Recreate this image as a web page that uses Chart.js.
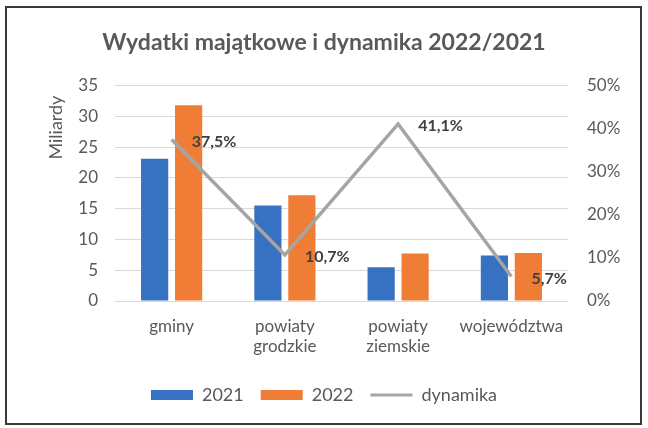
<!DOCTYPE html>
<html>
<head>
<meta charset="utf-8">
<script src="https://cdn.jsdelivr.net/npm/chart.js@4.4.1/dist/chart.umd.min.js"></script>
<style>
  html, body { margin: 0; padding: 0; background: #fff; }
  #wrap { width: 648px; height: 428px; position: relative; }
</style>
</head>
<body>
<div id="wrap"><canvas id="chart" width="648" height="428"></canvas></div>
<script>
const categories = ['gminy', ['powiaty', 'grodzkie'], ['powiaty', 'ziemskie'], 'województwa'];
const values2021 = [23.1, 15.5, 5.5, 7.4];
const values2022 = [31.8, 17.2, 7.7, 7.8];
const dynamika = [37.5, 10.7, 41.1, 5.7];
const dynamikaLabels = ['37,5%', '10,7%', '41,1%', '5,7%'];

const textGrey = '#595959';

// frame around the whole picture
const framePlugin = {
  id: 'frame',
  beforeDraw(chart) {
    const ctx = chart.ctx;
    ctx.save();
    ctx.fillStyle = '#ffffff';
    ctx.fillRect(0, 0, chart.width, chart.height);
    ctx.restore();
  },
  afterDraw(chart) {
    const ctx = chart.ctx;
    ctx.save();
    ctx.strokeStyle = '#3a3a3a';
    ctx.lineWidth = 2;
    ctx.strokeRect(6, 7, 635, 417);
    // axis title "Miliardy", sits near the top of the left axis
    const area = chart.chartArea;
    ctx.translate(56, area.top + 42);
    ctx.rotate(-Math.PI / 2);
    ctx.font = '18px Lato';
    ctx.fillStyle = textGrey;
    ctx.textAlign = 'center';
    ctx.textBaseline = 'middle';
    ctx.fillText('Miliardy', 0, 0);
    ctx.restore();
  }
};

// value labels to the right of the line points
const lineLabels = {
  id: 'lineLabels',
  afterDatasetsDraw(chart) {
    const meta = chart.getDatasetMeta(2);
    const ctx = chart.ctx;
    ctx.save();
    ctx.font = 'bold 16px Lato';
    ctx.fillStyle = '#404040';
    ctx.textAlign = 'left';
    ctx.textBaseline = 'middle';
    meta.data.forEach((pt, i) => {
      ctx.fillText(dynamikaLabels[i], pt.x + 20, pt.y + 2);
    });
    ctx.restore();
  }
};

const ctx = document.getElementById('chart').getContext('2d');

new Chart(ctx, {
  data: {
    labels: categories,
    datasets: [
      {
        type: 'bar',
        label: '2021',
        data: values2021,
        backgroundColor: '#3771c2',
        yAxisID: 'y',
        order: 2,
        categoryPercentage: 0.6,
        barPercentage: 0.8,
      },
      {
        type: 'bar',
        label: '2022',
        data: values2022,
        backgroundColor: '#ef7d35',
        yAxisID: 'y',
        order: 2,
        categoryPercentage: 0.6,
        barPercentage: 0.8,
      },
      {
        type: 'line',
        label: 'dynamika',
        data: dynamika,
        borderColor: '#a5a5a5',
        backgroundColor: '#a5a5a5',
        borderWidth: 3.5,
        pointRadius: 0,
        tension: 0,
        yAxisID: 'y1',
        order: 1,
      }
    ]
  },
  options: {
    responsive: false,
    animation: false,
    layout: { padding: { top: 0, bottom: 14, left: 0, right: 0 } },
    plugins: {
      tooltip: { enabled: false },
      title: {
        display: true,
        text: 'Wydatki majątkowe i dynamika 2022/2021',
        color: textGrey,
        font: { family: 'Lato', size: 23, weight: 'bold' },
        padding: { top: 29, bottom: 29 },
      },
      legend: {
        position: 'bottom',
        labels: {
          color: textGrey,
          font: { family: 'Lato', size: 18 },
          usePointStyle: true,
          pointStyleWidth: 42,
          boxHeight: 10,
          padding: 17,
          sort: (a, b) => a.datasetIndex - b.datasetIndex,
          generateLabels(chart) {
            const items = Chart.defaults.plugins.legend.labels.generateLabels(chart);
            items.forEach(it => {
              if (it.datasetIndex === 2) {
                it.pointStyle = 'line';
                it.lineWidth = 3;
                it.strokeStyle = '#a5a5a5';
              } else {
                it.pointStyle = 'rect';
                it.lineWidth = 0;
              }
            });
            return items;
          }
        }
      }
    },
    scales: {
      x: {
        grid: { display: false },
        border: { display: false },
        ticks: {
          color: textGrey,
          font: { family: 'Lato', size: 17 },
          padding: 7,
          maxRotation: 0,
          autoSkip: false,
        },
        afterFit(scale) { scale.height = 68; }
      },
      y: {
        position: 'left',
        min: 0,
        max: 35,
        ticks: {
          stepSize: 5,
          color: textGrey,
          font: { family: 'Lato', size: 17 },
          padding: 17,
        },
        grid: { color: '#d9d9d9', lineWidth: 1, drawTicks: false },
        border: { display: false },
        afterFit(scale) { scale.width = 115; }
      },
      y1: {
        position: 'right',
        min: 0,
        max: 50,
        ticks: {
          stepSize: 10,
          color: textGrey,
          font: { family: 'Lato', size: 17 },
          padding: 19,
          callback: v => v + '%',
        },
        grid: { drawOnChartArea: false, drawTicks: false },
        border: { display: false },
        afterFit(scale) { scale.width = 80; }
      }
    }
  },
  plugins: [framePlugin, lineLabels]
});
</script>
</body>
</html>
